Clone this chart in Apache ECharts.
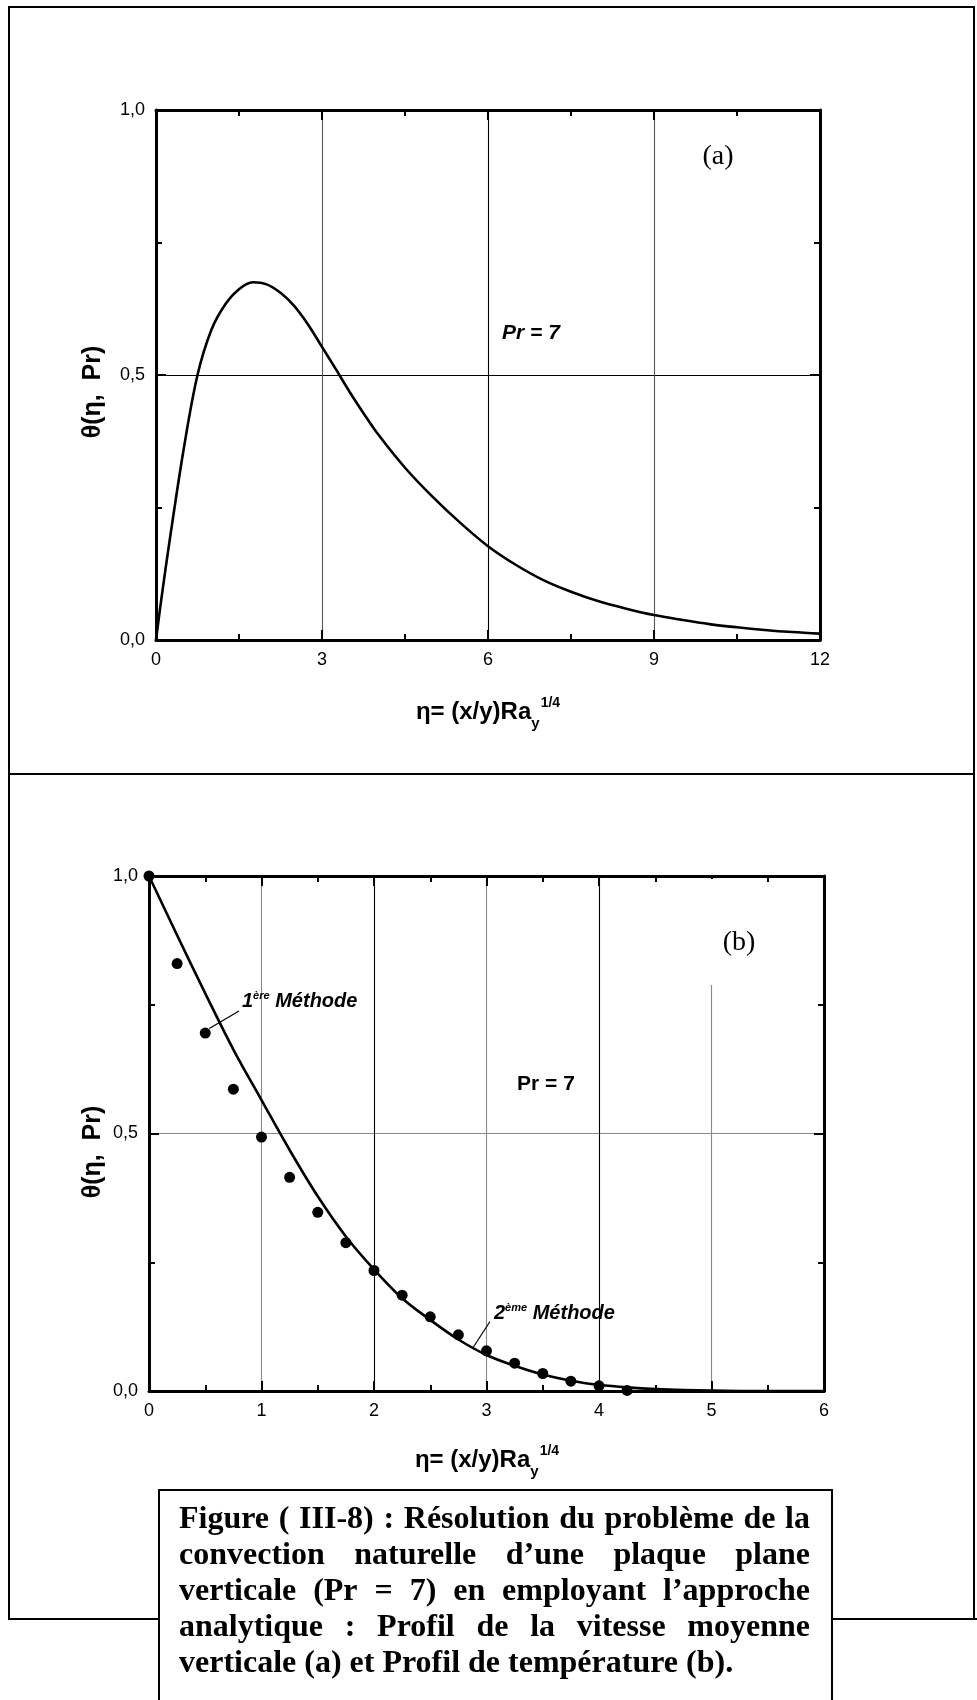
<!DOCTYPE html>
<html>
<head>
<meta charset="utf-8">
<script src="https://cdn.jsdelivr.net/npm/echarts@6/dist/echarts.min.js"></script>
<style>
  html, body { margin: 0; padding: 0; background: #fff; }
  #chart { width: 977px; height: 1700px; }
</style>
</head>
<body>
<div id="chart"></div>
<script>
// ---- Panel (a): profile of the mean vertical velocity, Pr = 7 ----
const etaA   = [0, 0.1, 0.25, 0.5, 0.75, 1.0, 1.25, 1.5, 1.75, 2.0, 2.25, 2.5, 2.75, 3.0, 3.25, 3.5, 3.75, 4.0, 4.5, 5.0, 5.5, 6.0, 6.5, 7.0, 7.5, 8.0, 8.5, 9.0, 9.5, 10.0, 10.5, 11.0, 11.5, 12.0];
const thetaA = [0, 0.08, 0.19, 0.36, 0.50, 0.585, 0.633, 0.662, 0.675, 0.671, 0.655, 0.630, 0.595, 0.553, 0.511, 0.468, 0.428, 0.390, 0.325, 0.270, 0.221, 0.177, 0.142, 0.113, 0.091, 0.073, 0.059, 0.047, 0.038, 0.030, 0.024, 0.019, 0.015, 0.012];

// ---- Panel (b): temperature profile, Pr = 7 ----
// analytical curve
const etaB   = [0, 0.25, 0.5, 0.75, 1.0, 1.25, 1.5, 1.75, 2.0, 2.25, 2.5, 2.75, 3.0, 3.25, 3.5, 3.75, 4.0, 4.25, 4.5, 5.0, 5.5, 6.0];
const thetaB = [1.0, 0.885, 0.772, 0.663, 0.565, 0.468, 0.378, 0.300, 0.236, 0.180, 0.138, 0.100, 0.070, 0.049, 0.032, 0.020, 0.012, 0.007, 0.004, 0.001, 0.0, 0.0];
// discrete solution (dots)
const etaPts   = [0, 0.25, 0.5, 0.75, 1.0, 1.25, 1.5, 1.75, 2.0, 2.25, 2.5, 2.75, 3.0, 3.25, 3.5, 3.75, 4.0, 4.25];
const thetaPts = [1.0, 0.830, 0.695, 0.586, 0.493, 0.415, 0.347, 0.288, 0.234, 0.186, 0.144, 0.109, 0.078, 0.054, 0.034, 0.019, 0.010, 0.001];

// annotation arrows of panel (b), in data units: [from, to]
const arrow1 = [[0.80, 0.738], [0.536, 0.704]];
const arrow2 = [[3.031, 0.135], [2.877, 0.083]];

// axis ranges and tick steps
const xRangeA = { min: 0, max: 12, interval: 3 };
const xRangeB = { min: 0, max: 6, interval: 1 };
const yRange  = { min: 0, max: 1, interval: 0.5 };

// caption
const captionLines = [
  'Figure ( III-8) : Résolution du problème de la',
  'convection naturelle d’une plaque plane',
  'verticale (Pr = 7) en employant l’approche',
  'analytique : Profil de la vitesse moyenne',
  'verticale (a) et Profil de température (b).'
];

const SANS  = '"Liberation Sans", Arial, sans-serif';
const SERIF = '"Liberation Serif", "Times New Roman", serif';

const chart = echarts.init(document.getElementById('chart'), null, { renderer: 'canvas' });

const pairs = (xs, ys) => xs.map((x, i) => [x, ys[i]]);
const commaFmt = v => v.toFixed(1).replace('.', ',');

function axisCommon(range, gridIndex, position, withLabels, splitColors) {
  return {
    type: 'value',
    gridIndex,
    position,
    min: range.min, max: range.max, interval: range.interval,
    axisLine: { show: true, onZero: false, lineStyle: { color: '#000', width: 3 } },
    axisTick: { show: true, inside: true, length: 10, lineStyle: { color: '#000', width: 2 } },
    minorTick: { show: true, splitNumber: 2, length: 6, lineStyle: { color: '#000', width: 2 } },
    axisLabel: withLabels ? {
      show: true, color: '#000', fontFamily: SANS, fontSize: 18, margin: 10,
      showMinLabel: true, showMaxLabel: true
    } : { show: false },
    splitLine: splitColors ? { show: true, lineStyle: { color: splitColors, width: 1.1 } } : { show: false },
    minorSplitLine: { show: false }
  };
}

const xA  = axisCommon(xRangeA, 0, 'bottom', true, ['#000', '#555']);
const xAt = axisCommon(xRangeA, 0, 'top', false, null);
const xB  = axisCommon(xRangeB, 1, 'bottom', true, ['#000', '#888']);
const xBt = axisCommon(xRangeB, 1, 'top', false, null);
const yA  = axisCommon(yRange, 0, 'left', true, ['#000', '#000']);
const yAr = axisCommon(yRange, 0, 'right', false, null);
const yB  = axisCommon(yRange, 1, 'left', true, ['#888', '#888']);
const yBr = axisCommon(yRange, 1, 'right', false, null);
[yA, yB].forEach(a => { a.axisLabel.formatter = commaFmt; a.axisLabel.margin = 11; });
[xA, xB].forEach(a => { a.axisLabel.margin = 11; });

chart.setOption({
  animation: false,
  backgroundColor: '#fff',
  grid: [
    { left: 156, top: 110, width: 664, height: 530, containLabel: false },
    { left: 149, top: 876, width: 675, height: 515, containLabel: false }
  ],
  xAxis: [xA, xAt, xB, xBt],
  yAxis: [yA, yAr, yB, yBr],
  series: [
    {
      name: 'u (a)', type: 'line', xAxisIndex: 0, yAxisIndex: 0,
      data: pairs(etaA, thetaA), smooth: 0.35,
      showSymbol: false, lineStyle: { color: '#000', width: 2.6 }, z: 5, silent: true
    },
    {
      name: 'θ analytique', type: 'line', xAxisIndex: 2, yAxisIndex: 2,
      data: pairs(etaB, thetaB), smooth: 0.35,
      showSymbol: false, lineStyle: { color: '#000', width: 2.6 }, z: 5, silent: true,
      markLine: {
        silent: true, animation: false,
        symbol: ['none', 'arrow'], symbolSize: [0, 9],
        label: { show: false },
        lineStyle: { color: '#000', width: 1.2, type: 'solid' },
        emphasis: { disabled: true },
        data: [
          [{ coord: arrow1[0] }, { coord: arrow1[1] }],
          [{ coord: arrow2[0] }, { coord: arrow2[1] }]
        ]
      }
    },
    {
      name: 'θ points', type: 'scatter', xAxisIndex: 2, yAxisIndex: 2,
      data: pairs(etaPts, thetaPts), symbol: 'circle', symbolSize: 11,
      itemStyle: { color: '#000', opacity: 1 }, z: 6, silent: true
    }
  ]
});

// ---- text layout helpers ----
const measureCtx = document.createElement('canvas').getContext('2d');
function fontStr(p) {
  return (p.italic ? 'italic ' : '') + (p.bold ? 'bold ' : '') + p.size + 'px ' + (p.family || SANS);
}
function measure(text, font) { measureCtx.font = font; return measureCtx.measureText(text).width; }

// places consecutive text runs on a common baseline
function runs(parts, x, baseline, anchor) {
  const widths = parts.map(p => measure(p.t, fontStr(p)));
  const total = widths.reduce((a, b) => a + b, 0) + parts.reduce((a, p) => a + (p.gap || 0), 0);
  let cx = anchor === 'center' ? x - total / 2 : x;
  return parts.map((p, i) => {
    cx += (p.gap || 0);
    const el = {
      type: 'text', x: cx, y: baseline + (p.dy || 0) - 0.36 * p.size, z: 30, silent: true,
      style: { text: p.t, font: fontStr(p), fill: '#000', align: 'left', verticalAlign: 'middle' }
    };
    cx += widths[i];
    return el;
  });
}

function centered(text, x, y, p, rotation) {
  return {
    type: 'text', x, y, rotation: rotation || 0, z: 30, silent: true,
    style: { text, font: fontStr(p), fill: '#000', align: 'center', verticalAlign: 'middle' }
  };
}

const graphics = [];

// outer frame with the separator between the two panels
graphics.push({ type: 'polyline', z: 1, silent: true,
  shape: { points: [[977, 1619], [9, 1619], [9, 7], [974, 7], [974, 1619]] },
  style: { stroke: '#000', lineWidth: 2, fill: null } });
graphics.push({ type: 'line', z: 1, silent: true,
  shape: { x1: 9, y1: 774, x2: 974, y2: 774 }, style: { stroke: '#000', lineWidth: 2 } });

// axis titles
const xTitle = (cx, base) => runs([
  { t: 'η= (x/y)Ra', size: 24, bold: true },
  { t: 'y', size: 15, bold: true, dy: 8 },
  { t: '1/4', size: 14, bold: true, dy: -13, gap: 1 }
], cx, base, 'center');
graphics.push(...xTitle(488, 721));
graphics.push(...xTitle(487, 1469));
graphics.push(centered('θ(η,  Pr)', 93, 392, { size: 25, bold: true }, Math.PI / 2));
graphics.push(centered('θ(η,  Pr)', 93, 1152, { size: 25, bold: true }, Math.PI / 2));

// panel (a) labels
graphics.push(centered('(a)', 718, 157, { size: 28, family: SERIF }));
graphics.push(centered('Pr = 7', 531, 333, { size: 21, bold: true, italic: true }));

// panel (b) labels; the white strip is the label box hiding the upper part of the η = 5 grid line
graphics.push({ type: 'rect', z: 20, silent: true,
  shape: { x: 705, y: 879, width: 13, height: 106 }, style: { fill: '#fff', stroke: null } });
graphics.push(centered('(b)', 739, 943, { size: 28, family: SERIF }));
graphics.push(centered('Pr = 7', 546, 1084, { size: 21, bold: true }));
graphics.push(...runs([
  { t: '1', size: 20, bold: true, italic: true },
  { t: 'ère', size: 11, bold: true, italic: true, dy: -9 },
  { t: ' Méthode', size: 20, bold: true, italic: true }
], 242, 1009, 'left'));
graphics.push(...runs([
  { t: '2', size: 20, bold: true, italic: true },
  { t: 'ème', size: 11, bold: true, italic: true, dy: -9 },
  { t: ' Méthode', size: 20, bold: true, italic: true }
], 494, 1321, 'left'));

// caption box, justified text
graphics.push({ type: 'rect', z: 25, silent: true,
  shape: { x: 159, y: 1490, width: 673, height: 240 },
  style: { fill: '#fff', stroke: '#000', lineWidth: 2 } });
const capFont = { size: 32, bold: true, family: SERIF };
const capLeft = 179, capRight = 810, capBase0 = 1531, capPitch = 36;
captionLines.forEach((line, i) => {
  const base = capBase0 + i * capPitch;
  const words = line.split(' ');
  const font = fontStr(capFont);
  const justify = i < captionLines.length - 1;
  const ws = words.map(w => measure(w, font));
  const sum = ws.reduce((a, b) => a + b, 0);
  const gap = justify ? (capRight - capLeft - sum) / (words.length - 1) : measure(' ', font);
  let x = capLeft;
  words.forEach((w, k) => {
    graphics.push({
      type: 'text', x, y: base - 0.34 * capFont.size, z: 30, silent: true,
      style: { text: w, font, fill: '#000', align: 'left', verticalAlign: 'middle' }
    });
    x += ws[k] + gap;
  });
});

chart.setOption({ graphic: graphics });
</script>
</body>
</html>
